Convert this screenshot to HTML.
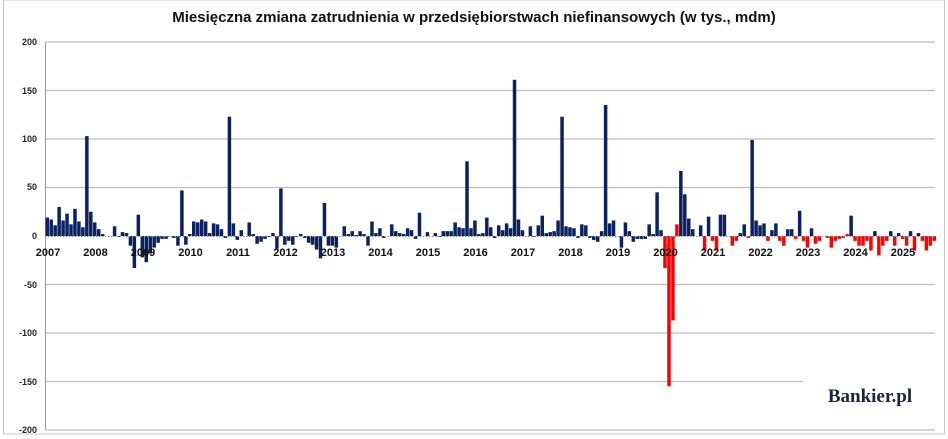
<!DOCTYPE html>
<html><head><meta charset="utf-8"><style>
html,body{margin:0;padding:0;background:#fff;}
svg{display:block;font-family:"Liberation Sans",sans-serif;}
</style></head><body>
<svg id="c" width="948" height="439" viewBox="0 0 948 439">
<rect x="3.5" y="0" width="941" height="434" fill="#fff" stroke="#c8c8c8"/>
<text x="474" y="22" text-anchor="middle" font-size="15" font-weight="bold" fill="#111">Miesięczna zmiana zatrudnienia w przedsiębiorstwach niefinansowych (w tys., mdm)</text>
<g id="grid" stroke="#bdbdbd" stroke-width="1.2"></g>
<g font-size="9" font-weight="bold" fill="#222" text-anchor="end">
<text x="37" y="45">200</text><text x="37" y="94">150</text><text x="37" y="142">100</text>
<text x="37" y="190">50</text><text x="37" y="239">0</text><text x="37" y="288">-50</text>
<text x="37" y="336">-100</text><text x="37" y="385">-150</text><text x="37" y="433">-200</text>
</g>
<line x1="45.5" y1="42" x2="45.5" y2="430" stroke="#9a9a9a"/>
<g id="bars"></g>
<line x1="45" y1="236.5" x2="935" y2="236.5" stroke="#8890a8" stroke-dasharray="1.5,1.5"/>
<g id="yrs" font-size="11" font-weight="bold" fill="#111" text-anchor="middle"></g>
<rect x="803" y="380" width="135" height="48" fill="#fff"/>
<text x="870" y="402" text-anchor="middle" font-family="'Liberation Serif',serif" font-size="19" font-weight="bold" fill="#1a2340">Bankier.pl</text>
</svg>
<script>
var ns="http://www.w3.org/2000/svg";
function el(t,a,p){var e=document.createElementNS(ns,t);for(var k in a)e.setAttribute(k,a[k]);p.appendChild(e);return e;}
var g=document.getElementById('grid');
[200,150,100,50,-50,-100,-150,-200].forEach(function(v){var y=236-v*0.97;el('line',{x1:45,x2:(v==-150?803:935),y1:y,y2:y},g);});
var d=[19,17,11,30,16,23,12,28,15,9,103,25,
14,7,2,0,0,10,-1,4,3,-10,-33,22,
-22,-27,-18,-12,-7,-3,-3,0,-2,-10,47,-9,
2,15,14,17,15,3,13,12,7,-2,123,13,
-4,6,0,14,2,-8,-6,-3,-1,3,-13,49,
-9,-5,-9,-1,2,-2,-7,-9,-14,-23,34,-10,
-10,-12,0,10,2,5,1,5,2,-10,15,3,
8,-2,0,12,5,3,2,8,6,-3,24,0,
4,0,3,-1,5,5,5,14,9,8,77,8,
16,2,3,19,9,-2,11,6,13,8,161,17,
6,0,10,-1,11,21,3,4,5,16,123,10,
9,8,-2,12,11,-2,-4,-6,5,135,13,16,
0,-12,14,5,-6,-3,-3,-3,12,2,
45,6,-33,-155,-87,12,67,43,18,7,0,11,-15,20,-5,-15,22,22,0,-10,-5,3,12,-2,99,
16,11,13,-5,6,13,-5,-10,7,7,-3,26,-5,-12,8,-8,-5,0,-2,-12,-5,-3,-2,2,21,
-5,-10,-10,-5,-15,5,-20,-10,-5,5,-10,3,-3,-10,5,-15,3,-5,-15,-10,-5];
var red={159:1,168:1,202:1};
var b=document.getElementById('bars');
d.forEach(function(v,i){
 var x=45.5+i*3.96, h=Math.abs(v)*0.97, y=v>=0?236-h:236;
 var c=(i>=156&&v<0)||red[i]?'#ff0000':'#0b2262';
 if(h>0)el('rect',{x:x.toFixed(2),y:y.toFixed(2),width:3.5,height:h.toFixed(2),fill:c},b);
});
var yg=document.getElementById('yrs');
for(var k=0;k<19;k++){var t=el('text',{x:(48+k*47.5).toFixed(1),y:256},yg);t.textContent=2007+k;}
</script>
</body></html>
